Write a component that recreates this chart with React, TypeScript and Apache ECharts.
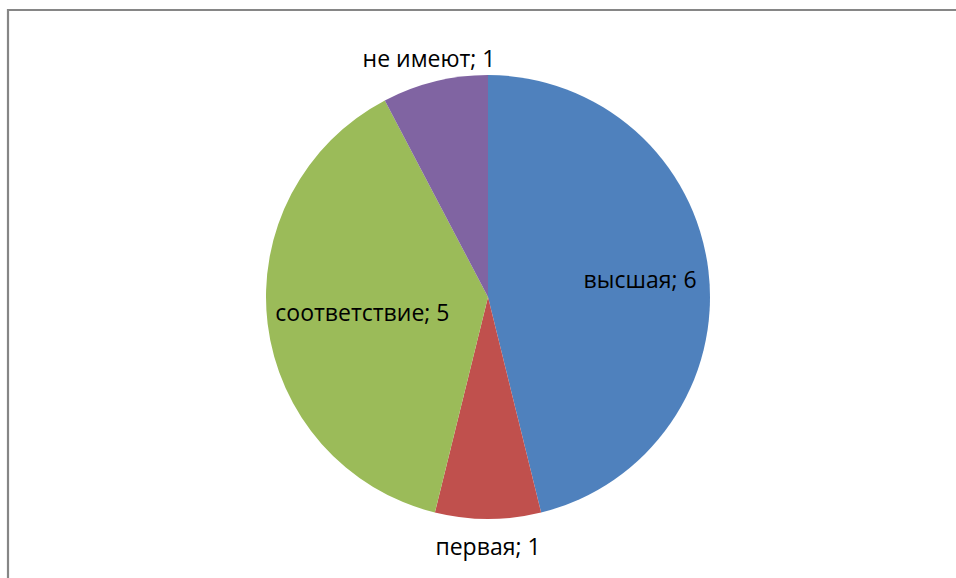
import React, { useEffect, useRef } from "react";
import * as echarts from "echarts";

const categories = ["высшая", "первая", "соответствие", "не имеют"];
const values = [6, 1, 5, 1];
const colors = ["#4F81BD", "#C0504D", "#9BBB59", "#8064A2"];
// label distance from centre as fraction of radius (>1 => outside)
const labelDist = [0.69, 1.12, 0.57, 1.11];

const CX = 488;
const CY = 297;
const R = 222;

export default function App() {
  const ref = useRef<HTMLDivElement>(null);
  useEffect(() => {
    const chart = echarts.init(ref.current!, null, { renderer: "svg" });
    const total = values.reduce((a, b) => a + b, 0);
    const cum: number[] = [];
    let acc = 0;
    values.forEach((v) => {
      cum.push(acc + v / 2);
      acc += v;
    });
    chart.setOption({
      animation: false,
      backgroundColor: "#ffffff",
      graphic: [
        {
          type: "rect",
          shape: { x: 8, y: 10, width: 1200, height: 1200 },
          style: { fill: "none", stroke: "#868686", lineWidth: 2.2 },
          silent: true,
        },
      ],
      series: [
        {
          type: "pie",
          center: [CX, CY],
          radius: R,
          startAngle: 90,
          clockwise: true,
          avoidLabelOverlap: false,
          label: {
            show: true,
            position: "inside",
            formatter: (p: any) => `${p.name}; ${p.value}`,
            color: "#000000",
            fontFamily: "Open Sans, Noto Sans, sans-serif",
            fontSize: 23,
          },
          labelLine: { show: false },
          labelLayout: (p: any) => {
            const i = p.dataIndex;
            const ang = (cum[i] / total) * Math.PI * 2;
            const d = labelDist[i] * R;
            return {
              x: CX + Math.sin(ang) * d,
              y: CY - Math.cos(ang) * d,
              align: "center",
              verticalAlign: "middle",
            };
          },
          itemStyle: { borderWidth: 0 },
          emphasis: { disabled: true },
          data: categories.map((c, i) => ({
            name: c,
            value: values[i],
            itemStyle: { color: colors[i] },
          })),
        },
      ],
    });
    return () => chart.dispose();
  }, []);
  return (
    <div
      ref={ref}
      style={{ position: "absolute", left: 0, top: 0, width: 956, height: 578 }}
    />
  );
}
